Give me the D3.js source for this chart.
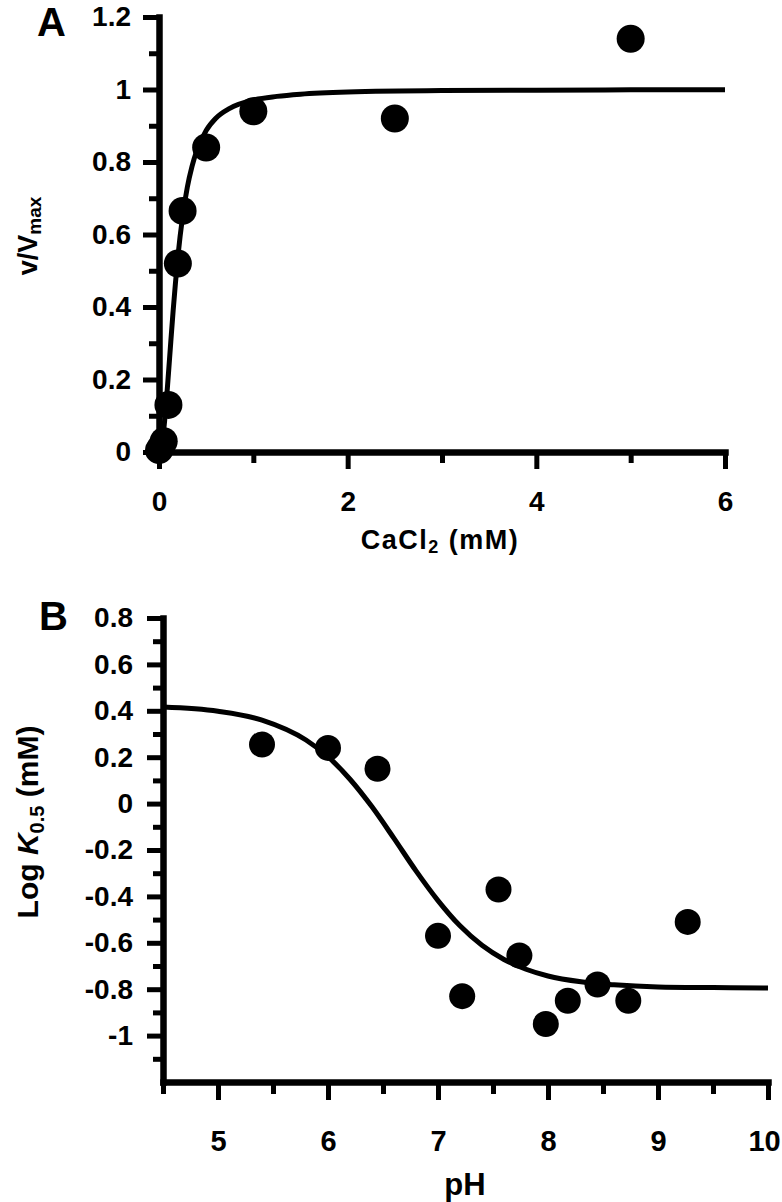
<!DOCTYPE html>
<html><head><meta charset="utf-8">
<script src="https://cdn.jsdelivr.net/npm/d3@7"></script>
<style>
body{margin:0;background:#fff}
svg{display:block}
text{font-family:"Liberation Sans",Arial,Helvetica,sans-serif;font-weight:bold;fill:#000}
</style>
</head><body>
<svg id="c" width="782" height="1202"></svg>
<script>
// ---------- Panel A data ----------
const caConc   = [0, 0.025, 0.05, 0.1, 0.2, 0.25, 0.5, 1, 2.5, 5];
const relRate  = [0.005, 0.015, 0.03, 0.13, 0.52, 0.665, 0.84, 0.94, 0.92, 1.14];
const fitCaX   = [0, 0.02, 0.04, 0.06, 0.08, 0.1, 0.125, 0.15, 0.175, 0.2, 0.25, 0.3, 0.35, 0.4, 0.5, 0.6, 0.75, 1, 1.25, 1.5, 2, 3, 4, 5, 6];
const fitCaY   = [0, 0.01, 0.039, 0.087, 0.147, 0.216, 0.304, 0.39, 0.468, 0.538, 0.649, 0.73, 0.788, 0.831, 0.887, 0.92, 0.948, 0.971, 0.981, 0.987, 0.993, 0.997, 0.998, 0.999, 0.999];
const yTicksA      = [0, 0.2, 0.4, 0.6, 0.8, 1, 1.2];
const yTickLabelsA = ["0", "0.2", "0.4", "0.6", "0.8", "1", "1.2"];
const yMinorA      = [0.1, 0.3, 0.5, 0.7, 0.9, 1.1];
const xTicksA      = [0, 2, 4, 6];
const xTickLabelsA = ["0", "2", "4", "6"];
const xMinorA      = [1, 3, 5];

// ---------- Panel B data ----------
const pHValues = [5.4, 6.0, 6.45, 7.0, 7.22, 7.55, 7.74, 7.98, 8.18, 8.45, 8.73, 9.27];
const logK05   = [0.255, 0.24, 0.15, -0.57, -0.83, -0.37, -0.655, -0.95, -0.85, -0.78, -0.85, -0.51];
const fitPhX   = [4.5, 5.0, 5.4, 5.8, 6.0, 6.2, 6.4, 6.6, 6.8, 7.0, 7.2, 7.4, 7.6, 7.8, 8.0, 8.3, 8.6, 9.0, 9.5, 10];
const fitPhY   = [0.416, 0.398, 0.36, 0.274, 0.202, 0.105, -0.014, -0.15, -0.29, -0.418, -0.527, -0.611, -0.672, -0.714, -0.743, -0.768, -0.781, -0.79, -0.793, -0.795];
const yTicksB      = [-1, -0.8, -0.6, -0.4, -0.2, 0, 0.2, 0.4, 0.6, 0.8];
const yTickLabelsB = ["-1", "-0.8", "-0.6", "-0.4", "-0.2", "0", "0.2", "0.4", "0.6", "0.8"];
const yMinorB      = [-1.1, -0.9, -0.7, -0.5, -0.3, -0.1, 0.1, 0.3, 0.5, 0.7];
const xTicksB      = [5, 6, 7, 8, 9, 10];
const xTickLabelsB = ["5", "6", "7", "8", "9", "10"];
const xMinorB      = [4.5, 5.5, 6.5, 7.5, 8.5, 9.5];

const svg = d3.select("#c");
const AXIS_W = 6.5, TICK_W = 5, CURVE_W = 5;

function styleAxis(g, fontSize, keepDomain) {
  g.attr("font-family", null).attr("font-size", null);
  g.select(".domain").attr("stroke-width", AXIS_W).attr("stroke-linecap", "square");
  if (!keepDomain) g.select(".domain").remove();
  g.selectAll(".tick line").attr("stroke-width", TICK_W);
  g.selectAll(".tick text").style("font-size", fontSize + "px");
}

function panel(cfg) {
  const x = d3.scaleLinear().domain(cfg.xDomain).range(cfg.xRange);
  const y = d3.scaleLinear().domain(cfg.yDomain).range(cfg.yRange);
  const x0 = cfg.xRange[0], y0 = cfg.yRange[0];

  // minor ticks
  svg.append("g").attr("transform", `translate(${x0},0)`)
    .call(d3.axisLeft(y).tickValues(cfg.yMinor).tickFormat("").tickSize(cfg.yMinorLen).tickSizeOuter(0))
    .call(g => styleAxis(g, 10, false));
  svg.append("g").attr("transform", `translate(0,${y0})`)
    .call(d3.axisBottom(x).tickValues(cfg.xMinor).tickFormat("").tickSize(cfg.xMinorLen).tickSizeOuter(0))
    .call(g => styleAxis(g, 10, false));

  // major axes
  svg.append("g").attr("transform", `translate(${x0},0)`)
    .call(d3.axisLeft(y).tickValues(cfg.yTicks).tickFormat((d, i) => cfg.yLabels[i])
      .tickSize(cfg.yMajorLen).tickPadding(cfg.yPad).tickSizeOuter(0))
    .call(g => styleAxis(g, cfg.yFont, true));
  const gx = svg.append("g").attr("transform", `translate(0,${y0})`)
    .call(d3.axisBottom(x).tickValues(cfg.xTicks).tickFormat((d, i) => cfg.xLabels[i])
      .tickSize(cfg.xMajorLen).tickPadding(cfg.xPad).tickSizeOuter(0))
    .call(g => styleAxis(g, cfg.xFont, true));
  if (cfg.lastDx) gx.selectAll(".tick:last-of-type text").attr("dx", cfg.lastDx);

  // fit curve
  const line = d3.line().x(d => x(d[0])).y(d => y(d[1])).curve(d3.curveMonotoneX);
  svg.append("path").datum(d3.zip(cfg.fitX, cfg.fitY))
    .attr("d", line).attr("fill", "none").attr("stroke", "#000")
    .attr("stroke-width", CURVE_W).attr("stroke-linejoin", "round");

  // points
  svg.append("g").selectAll("circle").data(d3.zip(cfg.px, cfg.py)).join("circle")
    .attr("cx", d => x(d[0])).attr("cy", d => y(d[1])).attr("r", cfg.r).attr("fill", "#000");
}

panel({
  xDomain: [0, 6], xRange: [159, 725], yDomain: [0, 1.2], yRange: [452, 17],
  yTicks: yTicksA, yLabels: yTickLabelsA, yMinor: yMinorA,
  xTicks: xTicksA, xLabels: xTickLabelsA, xMinor: xMinorA,
  yMajorLen: 16, yMinorLen: 10, yPad: 12, yFont: 28,
  xMajorLen: 17, xMinorLen: 11, xPad: 22, xFont: 28,
  fitX: fitCaX, fitY: fitCaY, px: caConc, py: relRate, r: 14
});

panel({
  xDomain: [4.5, 10], xRange: [163, 768], yDomain: [-1.2, 0.8], yRange: [1082, 618],
  yTicks: yTicksB, yLabels: yTickLabelsB, yMinor: yMinorB,
  xTicks: xTicksB, xLabels: xTickLabelsB, xMinor: xMinorB,
  yMajorLen: 16, yMinorLen: 10, yPad: 14, yFont: 28,
  xMajorLen: 18, xMinorLen: 12, xPad: 30, xFont: 29, lastDx: -4,
  fitX: fitPhX, fitY: fitPhY, px: pHValues, py: logK05, r: 13
});

// panel letters
svg.append("text").attr("x", 37).attr("y", 36).style("font-size", "40px").text("A");
svg.append("text").attr("x", 39).attr("y", 630).style("font-size", "40px").text("B");

// axis titles
const tA = svg.append("text").attr("x", 440).attr("y", 549).attr("text-anchor", "middle")
  .style("font-size", "27px").style("letter-spacing", "1.5px");
tA.append("tspan").text("CaCl");
tA.append("tspan").attr("dy", 4).style("font-size", "18px").text("2");
tA.append("tspan").attr("dy", -4).text(" (mM)");

svg.append("text").attr("x", 465).attr("y", 1195).attr("text-anchor", "middle")
  .style("font-size", "31px").text("pH");

const vA = svg.append("text").attr("transform", "translate(37,236) rotate(-90)")
  .attr("text-anchor", "middle").style("font-size", "27px");
vA.append("tspan").text("v/V");
vA.append("tspan").attr("dy", 4).style("font-size", "19px").text("max");

const vB = svg.append("text").attr("transform", "translate(38,822) rotate(-90)")
  .attr("text-anchor", "middle").style("font-size", "30px");
vB.append("tspan").text("Log ");
vB.append("tspan").style("font-style", "italic").text("K");
vB.append("tspan").attr("dy", 6).style("font-size", "20px").text("0.5");
vB.append("tspan").attr("dy", -6).text(" (mM)");
</script>
</body></html>
